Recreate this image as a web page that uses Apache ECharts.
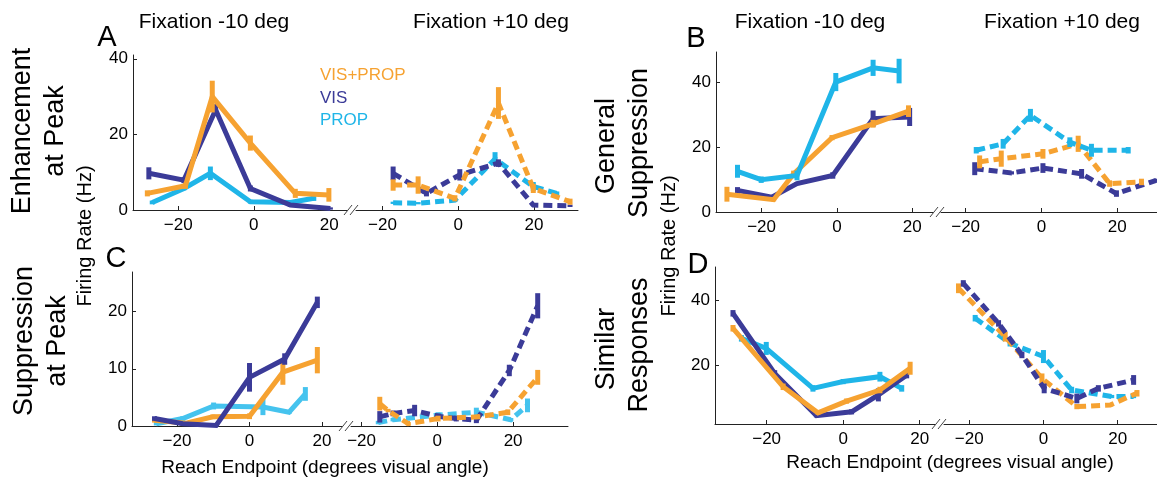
<!DOCTYPE html>
<html><head><meta charset="utf-8">
<script src="https://cdn.jsdelivr.net/npm/echarts@6/dist/echarts.min.js"></script>
<style>html,body{margin:0;padding:0;background:#fff}#c{width:1157px;height:485px}</style>
</head><body><div id="c"></div>
<script>
// ---------- DATA: [reach endpoint (deg), firing rate (Hz), s.e.m.] ----------
// Panel A – Enhancement at Peak
const A_L_VISPROP = [[-28.2,4.4,0.8],[-18.1,6.4,0.8],[-11,30,4.2],[-0.9,17.7,2],[11,4.4,1.2],[19.9,4,1.8]];
const A_L_VIS     = [[-27.8,9.7,1.6],[-18.5,7.9,0.8],[-10.1,26.5,1.5],[-0.9,5.7,0.8],[9.7,1.3,0.5],[20.3,0.4,0.3]];
const A_L_PROP    = [[-26.9,2,0.5],[-18.5,5.7,0.5],[-11.5,9.7,1.8],[-0.9,2.2,0.5],[9.7,2,0.5],[15.9,3.1,0.7]];
const A_R_VISPROP = [[-17.2,6.6,1.5],[-10.6,6.6,2.3],[-0.9,3.1,0.8],[10.6,28.3,4.2],[19.8,5.7,1.2],[29.5,2.2,0.8]];
const A_R_VIS     = [[-17.2,9.7,1.8],[-8.4,4.4,0.8],[0.4,9.3,1.5],[10.6,12.4,1],[19.8,1.3,0.3],[29.5,1.1,0.3]];
const A_R_PROP    = [[-17.2,1.9,0.3],[-10.6,1.8,0.3],[-0.9,2.6,0.5],[9.7,13.5,1.8],[19.8,6.2,1.2],[26,4.4,0.5]];
// Panel B – General Suppression
const B_L_VISPROP = [[-29.2,5.5,2.3],[-16.8,3.8,0.5],[-11.5,11.8,1],[-1.3,23,0.8],[9.6,27.3,1.2],[19,31.2,1.8]];
const B_L_VIS     = [[-26.4,6.7,1],[-17.3,4.6,0.5],[-10.6,8.8,0.5],[-1.1,11.3,1],[9.6,28.9,2.5],[19.3,29.4,2.8]];
const B_L_PROP    = [[-26.4,12.6,2],[-20.1,10,1],[-10.6,11.3,1.5],[-0.3,40.2,2.8],[9.6,44.6,2.5],[16.5,43.6,3.8]];
const B_R_VISPROP = [[-16.3,15.5,2],[-10.6,16.5,2.5],[0.4,18,1.5],[9.7,21.1,2.5],[18,8.8,1],[26.4,9.3,1]];
const B_R_VIS     = [[-17.6,13.4,2],[-7.9,12.1,0.5],[0.4,13.6,1.5],[10.6,11.8,1.5],[19.8,5.7,1],[30.3,9.8,0.5]];
const B_R_PROP    = [[-17.2,19.1,1],[-10.1,21.1,1.5],[-2.9,29.9,2],[7.5,21.6,1.5],[13.2,19.1,2],[22.9,19.1,1]];
// Panel C – Suppression at Peak
const C_L_VISPROP = [[-26.2,1,0.4],[-17.5,0.5,0.3],[-10.1,1.6,0.4],[0,1.7,0.5],[9.2,9.4,2.2],[18.7,11.5,2.3]];
const C_L_VIS     = [[-26.2,1.3,0.4],[-18.4,0.4,0.3],[-9.2,0.1,0.2],[0,8.5,2.5],[9.7,11.7,1],[18.7,21.6,1]];
const C_L_PROP    = [[-25.7,0.4,0.3],[-18.4,1.3,0.4],[-9.9,3.5,0.6],[3.7,3.3,1.4],[10.9,2.4,0.3],[15.4,5.6,1.2]];
const C_R_VISPROP = [[-15.2,3.9,1.2],[-13,2.7,0.3],[-7.7,0.4,0.3],[0.2,1.3,0.5],[10.7,1.6,0.4],[18.6,2.4,0.5],[26.5,8.5,1.3]];
const C_R_VIS     = [[-15.2,1.6,1],[-11.7,2.2,0.5],[-6,2.7,1],[0.2,1.7,0.5],[5,1.3,0.5],[10.3,1,0.5],[19,9.7,1],[26.5,21,2.2]];
const C_R_PROP    = [[-15.6,0.6,0.3],[-11.7,1.1,0.3],[0.2,1.9,0.5],[10.3,2.4,0.8],[19.4,1.1,0.3],[23.8,3.6,1.2]];
// Panel D – Similar Responses
const D_L_VISPROP = [[-28.8,31.3,1],[-15.7,13.3,1],[-6.6,5.3,0.5],[0.9,8.9,0.8],[9.6,12.3,1],[17.5,19,2]];
const D_L_VIS     = [[-28.8,35.9,1],[-17.9,17.4,1],[-7,4.4,0.5],[2.2,5.6,0.8],[9.2,10.8,2],[16.6,16.9,1]];
const D_L_PROP    = [[-26.6,28.2,1],[-20.1,25.1,2],[-7.9,12.8,1],[0,14.9,0.8],[9.6,16.4,1.5],[15.3,12.8,1]];
const D_R_VISPROP = [[-22.9,43.6,1.5],[-10.3,28.7,1.5],[-0.4,15.9,1.5],[9,7.2,0.8],[18,7.7,0.5],[25.2,11.3,1]];
const D_R_VIS     = [[-21.6,45.1,1],[-12.1,32.8,1],[-5.8,23.1,1],[0.2,12.8,1.5],[9,9.7,1.5],[14.8,12.8,1],[24.3,15.4,1.5]];
const D_R_PROP    = [[-18.4,34.4,1],[-9,26.7,1],[0,22.6,2],[7.6,12.3,1],[18.4,10.3,0.5],[24.3,10.3,0.5]];

const X_TICKS = [-20, 0, 20];
const Y_TICKS_A = [0, 20, 40];
const Y_TICKS_B = [0, 20, 40];
const Y_TICKS_C = [0, 10, 20];
const Y_TICKS_D = [20, 40];
const LEGEND = ['VIS+PROP', 'VIS', 'PROP'];
const COLUMN_TITLES = ['Fixation -10 deg', 'Fixation +10 deg'];
const ROW_TITLES = {A: ['Enhancement', 'at Peak'], B: ['General', 'Suppression'], C: ['Suppression', 'at Peak'], D: ['Similar', 'Responses']};
const Y_NAME = 'Firing Rate (Hz)';
const X_NAME = 'Reach Endpoint (degrees visual angle)';

// ---------- STYLE / LAYOUT ----------
const COL = {VISPROP: '#F6A231', VIS: '#3B3B98', PROP: '#1FB5E8', PROP_C: '#45C3EE'};
const FONT = 'Liberation Sans, Arial, Helvetica, sans-serif';

const VISPROP_SETS = [A_L_VISPROP,A_R_VISPROP,B_L_VISPROP,B_R_VISPROP,C_L_VISPROP,C_R_VISPROP,D_L_VISPROP,D_R_VISPROP];
const VIS_SETS = [A_L_VIS,A_R_VIS,B_L_VIS,B_R_VIS,C_L_VIS,C_R_VIS,D_L_VIS,D_R_VIS];
function colorOf(arr){
  if (VISPROP_SETS.includes(arr)) return COL.VISPROP;
  if (VIS_SETS.includes(arr)) return COL.VIS;
  if (arr === C_L_PROP || arr === C_R_PROP) return COL.PROP_C;
  return COL.PROP;
}

const panels = [
  {g:[133,55,214,155],  x:[-32,24.7],  y:[0,41],    yt:Y_TICKS_A, showY:true,  d:[A_L_PROP,A_L_VIS,A_L_VISPROP], dash:false},
  {g:[356,55,222,155],  x:[-27,31.6],  y:[0,41],    yt:Y_TICKS_A, showY:false, d:[A_R_PROP,A_R_VIS,A_R_VISPROP], dash:true},
  {g:[716,52,217,160],  x:[-32.1,25.5],y:[0,49.5],  yt:Y_TICKS_B, showY:true,  d:[B_L_VIS,B_L_VISPROP,B_L_PROP], dash:false},
  {g:[941,52,216,160],  x:[-26.5,30.5],y:[0,49.5],  yt:Y_TICKS_B, showY:false, d:[B_R_VIS,B_R_VISPROP,B_R_PROP], dash:true},
  {g:[132,272,210,154], x:[-32.4,25.5],y:[0,26.9],  yt:Y_TICKS_C, showY:true,  d:[C_L_PROP,C_L_VISPROP,C_L_VIS], dash:false},
  {g:[351,272,217,154], x:[-22.8,34.5],y:[0,26.9],  yt:Y_TICKS_C, showY:false, d:[C_R_PROP,C_R_VIS,C_R_VISPROP], dash:true},
  {g:[715,267,220,157], x:[-33.5,24],  y:[1.85,50.15], yt:Y_TICKS_D, showY:true,  d:[D_L_PROP,D_L_VIS,D_L_VISPROP], dash:false},
  {g:[944,267,213,157], x:[-26.8,30.6],y:[1.85,50.15], yt:Y_TICKS_D, showY:false, d:[D_R_PROP,D_R_VISPROP,D_R_VIS], dash:true}
];

const grid = [], xAxis = [], yAxis = [], series = [];
panels.forEach((p, i) => {
  grid.push({left:p.g[0], top:p.g[1], width:p.g[2], height:p.g[3], containLabel:false});
  xAxis.push({type:'value', gridIndex:i, min:p.x[0], max:p.x[1],
    axisLine:{show:true, onZero:false, lineStyle:{color:'#222', width:1}},
    axisTick:{show:true, inside:true, length:4, customValues:X_TICKS, lineStyle:{color:'#222'}},
    axisLabel:{show:true, customValues:X_TICKS, fontSize:17, color:'#000', fontFamily:FONT, margin:7,
      formatter: v => (v < 0 ? '\u2212' + Math.abs(v) : String(v))},
    splitLine:{show:false}});
  yAxis.push({type:'value', gridIndex:i, min:p.y[0], max:p.y[1], show:p.showY,
    axisLine:{show:true, onZero:false, lineStyle:{color:'#222', width:1}},
    axisTick:{show:true, inside:true, length:4, customValues:p.yt, lineStyle:{color:'#222'}},
    axisLabel:{show:true, customValues:p.yt, fontSize:17, color:'#000', fontFamily:FONT, margin:5},
    splitLine:{show:false}});
  p.d.forEach((arr, k) => {
    const c = colorOf(arr);
    series.push({type:'line', xAxisIndex:i, yAxisIndex:i, data:arr.map(r => [r[0], r[1]]),
      symbol:'none', silent:true, z:2+k, clip:false,
      lineStyle:{color:c, width:5, type:p.dash ? [9,5] : 'solid', join:'miter', cap:'butt'}});
    series.push({type:'custom', xAxisIndex:i, yAxisIndex:i, data:arr, z:2+k, silent:true, clip:false,
      encode:{x:0, y:1},
      renderItem:(params, api) => {
        const x = api.value(0), y = api.value(1), e = api.value(2);
        const a = api.coord([x, y - e]), b = api.coord([x, y + e]);
        return {type:'line', shape:{x1:a[0], y1:a[1], x2:b[0], y2:b[1]},
          style:{stroke:c, lineWidth:5}};
      }});
  });
});

// ---------- TEXT / DECORATION ----------
const g = [];
function txt(t, x, y, size, opt) {
  opt = opt || {};
  g.push({type:'text', x:x, y:y, rotation:opt.rot || 0, z:100,
    style:{text:t, fontSize:size, fontFamily:FONT, fill:opt.color || '#000', align:opt.align || 'center', verticalAlign:'middle'}});
}
const R = Math.PI / 2;
txt(COLUMN_TITLES[0], 214, 22, 21); txt(COLUMN_TITLES[1], 491, 22, 21);
txt(COLUMN_TITLES[0], 810, 22, 21); txt(COLUMN_TITLES[1], 1062, 22, 21);
txt('A', 107, 38, 29); txt('B', 696, 39, 29); txt('C', 116, 259, 29); txt('D', 698, 265, 29);
txt(ROW_TITLES.A[0], 23, 131, 27, {rot:R}); txt(ROW_TITLES.A[1], 56, 131, 27, {rot:R});
txt(ROW_TITLES.C[0], 25, 341, 27, {rot:R}); txt(ROW_TITLES.C[1], 58, 341, 27, {rot:R});
txt(ROW_TITLES.B[0], 607, 146, 27, {rot:R}); txt(ROW_TITLES.B[1], 640, 143, 27, {rot:R});
txt(ROW_TITLES.D[0], 607, 349, 27, {rot:R}); txt(ROW_TITLES.D[1], 640, 345, 27, {rot:R});
txt(Y_NAME, 85, 236, 20, {rot:R}); txt(Y_NAME, 669, 246, 20, {rot:R});
txt(X_NAME, 325, 468, 19); txt(X_NAME, 950, 463, 19);
txt(LEGEND[0], 320, 75, 17, {align:'left', color:COL.VISPROP});
txt(LEGEND[1], 320, 98, 17, {align:'left', color:COL.VIS});
txt(LEGEND[2], 320, 120, 17, {align:'left', color:COL.PROP});
// axis break marks
[[351,210],[937,212],[346,426],[939,424]].forEach(([cx, cy]) => {
  [-3, 3].forEach(dx => g.push({type:'line', z:100,
    shape:{x1:cx + dx - 4, y1:cy + 5, x2:cx + dx + 4, y2:cy - 5}, style:{stroke:'#444', lineWidth:1}}));
});

const chart = echarts.init(document.getElementById('c'), null, {renderer:'canvas'});
chart.setOption({animation:false, backgroundColor:'#fff', grid, xAxis, yAxis, series, graphic:g});
</script></body></html>
